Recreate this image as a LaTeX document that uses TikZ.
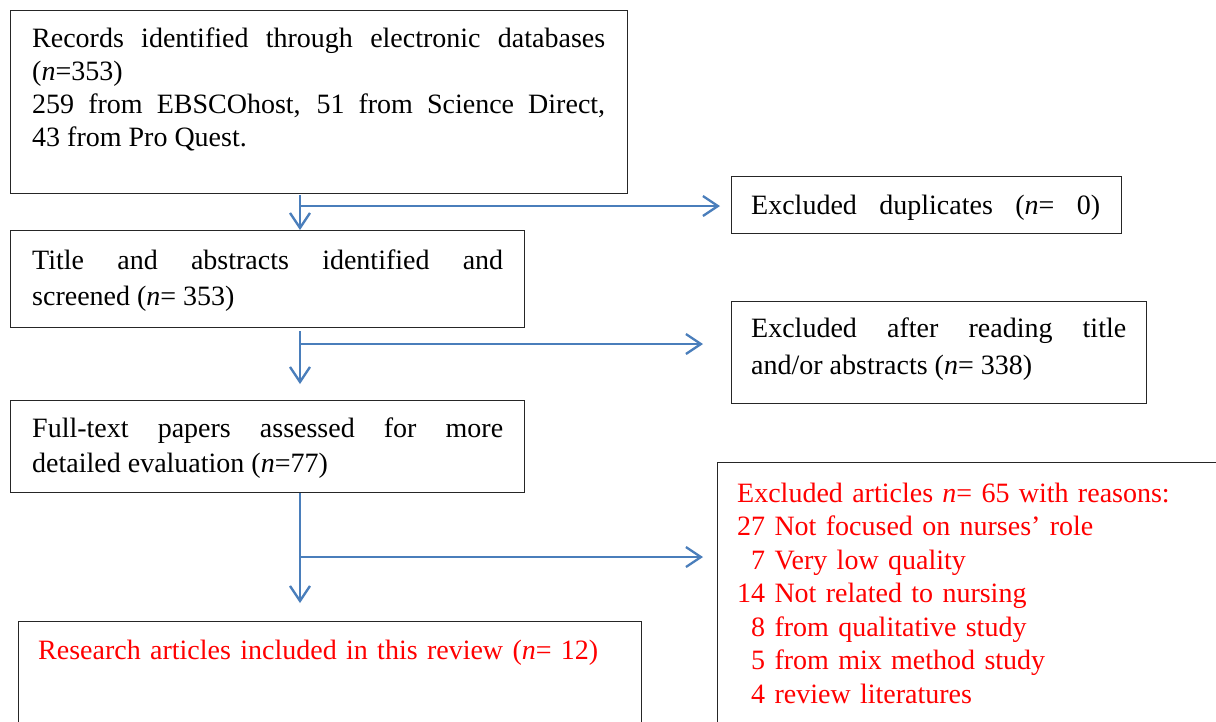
\documentclass[tikz,border=0pt]{standalone}
\usepackage{fontspec}
\setmainfont{Liberation Serif}
\usetikzlibrary{arrows.meta,calc}
\definecolor{arrowblue}{RGB}{74,126,187}
\definecolor{txtred}{RGB}{255,0,0}
\begin{document}
\begin{tikzpicture}[x=1pt,y=-1pt,
  boxframe/.style={draw=black!85, line width=1.3pt, rectangle, inner sep=0pt, anchor=north west},
  txt/.style={inner sep=0pt, anchor=north west, align=justify},
  flow/.style={draw=arrowblue, line width=2.3pt, -{Straight Barb[length=15pt,width=20pt,line width=2.3pt]}},
  branch/.style={draw=arrowblue, line width=2.3pt}]
\useasboundingbox (0,0) rectangle (1216,721);
\clip (0,0) rectangle (1216,721);
\fill[white] (0,0) rectangle (1216,721);

% boxes
\node[boxframe, minimum width=617pt, minimum height=183pt] (b1) at (10,10) {};
\node[boxframe, minimum width=390pt, minimum height=57pt] (e1) at (731,176) {};
\node[boxframe, minimum width=514pt, minimum height=97pt] (b2) at (10,230) {};
\node[boxframe, minimum width=415pt, minimum height=102pt] (e2) at (731,301) {};
\node[boxframe, minimum width=514pt, minimum height=92pt] (b3) at (10,400) {};
\node[boxframe, minimum width=540pt, minimum height=300pt] (e3) at (717,462) {};
\node[boxframe, minimum width=623pt, minimum height=150pt] (b4) at (18,621) {};

% texts (node top = first baseline - 0.7 baselineskip)
\node[txt, text width=573pt, font=\fontsize{28}{33}\selectfont] (t1) at (32,23.9)
 {\strut Records identified through electronic databases\linebreak (\textit{n}=353)\\259 from EBSCOhost, 51 from Science Direct,\linebreak 43 from Pro Quest.};
\node[txt, text width=350pt, font=\fontsize{28}{33}\selectfont] (te1) at (751,190.9)
 {\strut\makebox[349pt][s]{Excluded duplicates (\textit{n}= 0)}};
\node[txt, text width=471pt, font=\fontsize{28}{36.5}\selectfont] (t2) at (32,243.5)
 {\strut Title and abstracts identified and\linebreak screened (\textit{n}= 353)};
\node[txt, text width=375pt, font=\fontsize{28}{37}\selectfont] (te2) at (751,311.6)
 {\strut Excluded after reading title\linebreak and/or abstracts (\textit{n}= 338)};
\node[txt, text width=471pt, font=\fontsize{28}{35}\selectfont] (t3) at (32,412.5)
 {\strut Full-text papers assessed for more\linebreak detailed evaluation (\textit{n}=77)};
\node[txt, text width=480pt, align=left, text=txtred, font=\fontsize{28}{33.5}\selectfont] (te3) at (737,478.6)
 {\strut Excluded articles \textit{n}= 65 with reasons:\\
  27 Not focused on nurses’ role\\
  \phantom{2}7 Very low quality\\
  14 Not related to nursing\\
  \phantom{2}8 from qualitative study\\
  \phantom{2}5 from mix method study\\
  \phantom{2}4 review literatures};
\node[txt, text width=600pt, align=left, text=txtred, font=\fontsize{28}{33}\selectfont] (t4) at (38,635.9)
 {\strut Research articles included in this review (\textit{n}= 12)};

% junction points of the branches
\coordinate (j1) at (300,206);
\coordinate (j2) at (300,344);
\coordinate (j3) at (300,557);

% connectors
\draw[flow, shorten <=1pt, shorten >=0pt] (b1.south -| j1) -- (b2.north -| j1);
\draw[flow, shorten >=11pt] (j1) -- (j1 -| e1.west);
\draw[flow, shorten <=3pt, shorten >=16pt] (b2.south -| j2) -- (b3.north -| j2);
\draw[flow, shorten >=28pt] (j2) -- (j2 -| e2.west);
\draw[flow, shorten >=18pt] (b3.south -| j3) -- (b4.north -| j3);
\draw[flow, shorten >=14pt] (j3) -- (j3 -| e3.west);
\end{tikzpicture}
\end{document}
